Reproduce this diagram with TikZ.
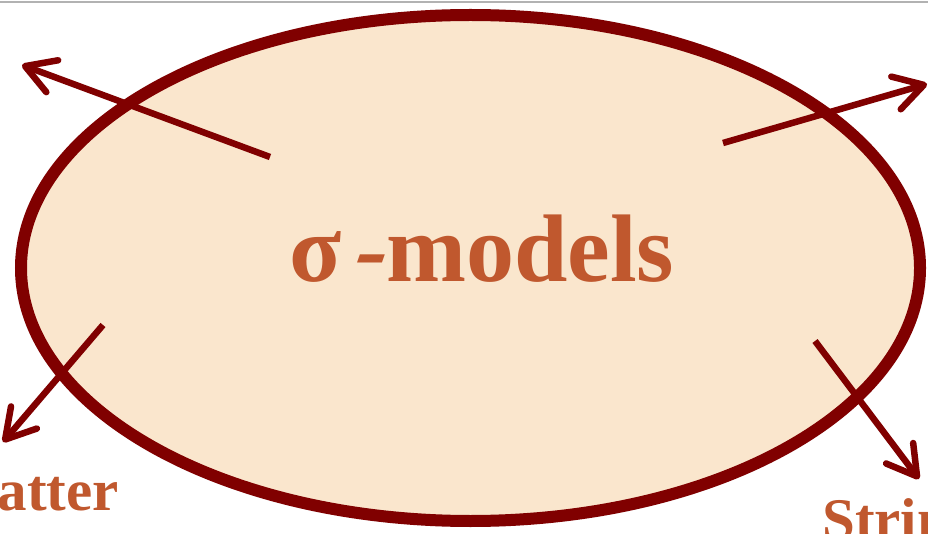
\documentclass[tikz,border=0pt]{standalone}
\usepackage{fontspec}
\setmainfont{Liberation Serif}
\newfontface\slantbold[FakeSlant=0.35]{Liberation Serif Bold}
\usetikzlibrary{arrows.meta,shapes.geometric}
\definecolor{dred}{HTML}{800000}
\definecolor{peach}{HTML}{FAE6CD}
\definecolor{rust}{HTML}{C0582E}
\tikzset{
  arr/.style={draw=dred, line width=6.5pt, -{Straight Barb[length=29pt, width=34pt, round]}},
  lbl/.style={text=rust, font=\bfseries\fontsize{59}{60}\selectfont, inner sep=0pt},
}
\begin{document}
\begin{tikzpicture}[x=1pt,y=-1pt]
\useasboundingbox (0,0) rectangle (928,534);
\clip (0,0) rectangle (928,534);
\fill[white] (0,0) rectangle (928,534);
\draw[gray!60, line width=2pt] (0,2) -- (928,2);
\node (ell) [ellipse, draw=dred, fill=peach, line width=12pt, minimum width=899pt, minimum height=506pt, inner sep=0pt] at (470.5,268) {};
\node (title) [text=rust, font=\bfseries\fontsize{96}{98}\selectfont, inner sep=0pt, anchor=base] at (482,282) {σ\hspace{5pt}{\slantbold -}\hspace{7pt}models};
\coordinate (s1) at (270,157); \coordinate (e1) at (22,65);
\coordinate (s2) at (723,143); \coordinate (e2) at (927,84);
\coordinate (s3) at (103,325); \coordinate (e3) at (3,442);
\coordinate (s4) at (815,341); \coordinate (e4) at (919,479);
\draw[arr] (s1) -- (e1);
\draw[arr] (s2) -- (e2);
\draw[arr] (s3) -- (e3);
\draw[arr] (s4) -- (e4);
\node (matter) [lbl, anchor=base east] at (119,510) {Matter};
\node (string) [lbl, anchor=base west] at (822,539) {String};
\end{tikzpicture}
\end{document}
